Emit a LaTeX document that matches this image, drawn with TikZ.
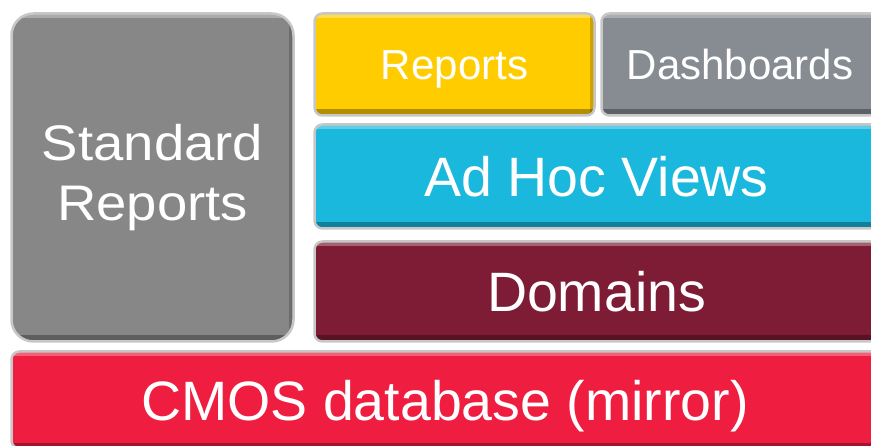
\documentclass[tikz,border=0pt]{standalone}
\usepackage{fontspec}
\setmainfont{Liberation Sans}
\newfontfamily\stdfont[FakeStretch=1.09]{Liberation Sans}
\definecolor{stdgray}{HTML}{878787}
\definecolor{repyellow}{HTML}{FFCC00}
\definecolor{dashgray}{HTML}{868C92}
\definecolor{adhoccyan}{HTML}{1AB8DC}
\definecolor{domred}{HTML}{7E1C35}
\definecolor{cmosred}{HTML}{EF1E40}

\tikzset{
  tile/.style={draw=black!22, line width=2.5pt, text=white, inner sep=0pt,
    align=center, rounded corners=8pt,
    path picture={
      \begin{scope}[sharp corners]
        \fill[white,opacity=.3] ([yshift=-5pt]path picture bounding box.north west)
          rectangle (path picture bounding box.north east);
        \fill[black,opacity=.3] (path picture bounding box.south west)
          rectangle ([yshift=6pt]path picture bounding box.south east);
        \fill[black,opacity=.2] ([xshift=-5pt]path picture bounding box.south east)
          rectangle (path picture bounding box.north east);
      \end{scope}}},
  bigtext/.style={font=\fontsize{55.5}{56}\selectfont,
    text height=40pt, text depth=0pt},
  smalltext/.style={font=\fontsize{42}{44}\selectfont,
    text height=30pt, text depth=0pt},
}

\begin{document}
\begin{tikzpicture}[x=1pt,y=1pt]
  \useasboundingbox (0,0) rectangle (871,445);
  \clip (0,0) rectangle (871,445);
  % left column
  \node[tile, fill=stdgray, rounded corners=22pt,
    font=\stdfont\fontsize{50}{60}\selectfont,
    minimum width=282pt, minimum height=328pt] (std) at (152.5,267.5)
    {Standard\\Reports};
  % top row
  \node[tile, smalltext, fill=repyellow, minimum width=280pt,
    minimum height=102pt] (rep) at (454.5,380.5) {Reports};
  \node[tile, smalltext, fill=dashgray, minimum width=277pt,
    minimum height=102pt] (dash) at (740,380.5) {Dashboards};
  % middle rows
  \node[tile, bigtext, fill=adhoccyan, minimum width=564pt,
    minimum height=104pt] (adhoc) at (596.5,268.5) {Ad Hoc Views};
  \node[tile, bigtext, fill=domred, minimum width=564pt,
    minimum height=100pt] (dom) at (596.5,153.5) {Domains};
  % bottom row
  \node[tile, bigtext, fill=cmosred, minimum width=867pt,
    minimum height=97pt] (cmos) at (445,45) {CMOS database (mirror)};
\end{tikzpicture}
\end{document}
